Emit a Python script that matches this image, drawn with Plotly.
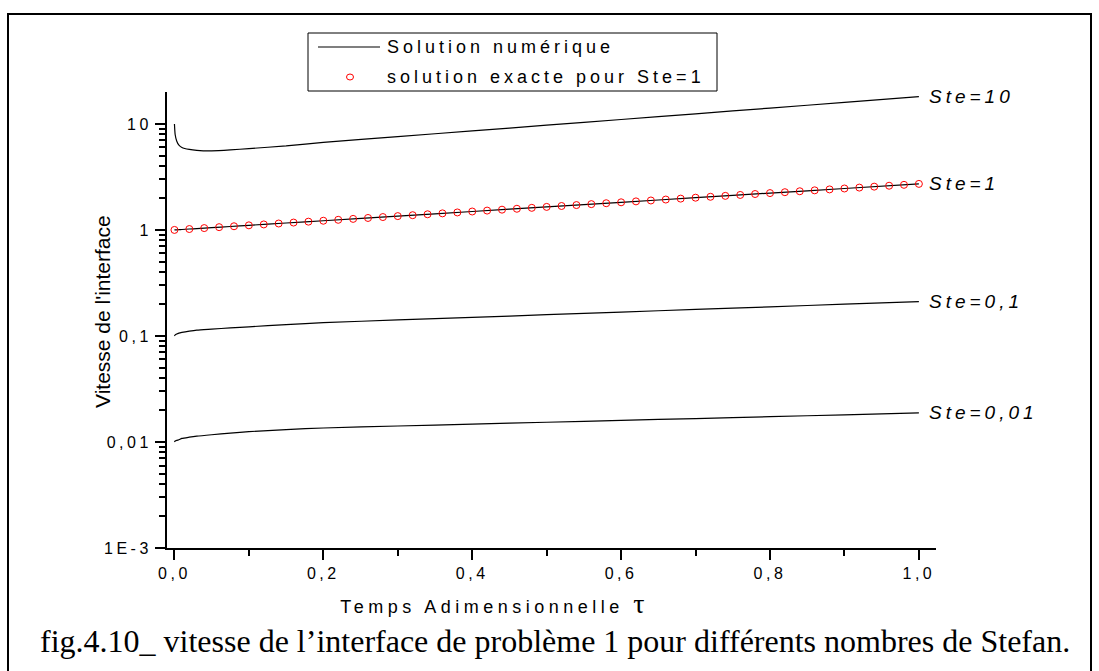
import math
import plotly.graph_objects as go

# ---------------- data ----------------
tau_num = [0, 0.001, 0.003, 0.006, 0.01, 0.02, 0.03, 0.05, 0.075, 0.1, 0.15, 0.2,
           0.3, 0.4, 0.5, 0.6, 0.7, 0.8, 0.9, 1.0]
ste10 = [10.0, 7.9, 6.9, 6.3, 6.0, 5.75, 5.63, 5.57, 5.68, 5.85, 6.2, 6.7,
         7.59, 8.59, 9.72, 11.0, 12.45, 14.1, 15.97, 18.1]
ste1 = [1.0, 1.001, 1.003, 1.006, 1.010, 1.020, 1.030, 1.051, 1.078, 1.105, 1.162, 1.221,
        1.350, 1.492, 1.649, 1.822, 2.014, 2.226, 2.460, 2.718]
ste01 = [0.100, 0.1025, 0.1045, 0.1065, 0.108, 0.111, 0.1135, 0.116, 0.119, 0.122, 0.128, 0.1335,
         0.1415, 0.1498, 0.1586, 0.168, 0.1778, 0.1883, 0.1993, 0.211]
ste001 = [0.0100, 0.0102, 0.01035, 0.0105, 0.0108, 0.0111, 0.01135, 0.0117, 0.0121, 0.0125, 0.0131, 0.01355,
          0.01415, 0.01474, 0.01535, 0.01598, 0.01664, 0.01733, 0.01805, 0.0188]

tau_exact = [0.00, 0.02, 0.04, 0.06, 0.08, 0.10, 0.12, 0.14, 0.16, 0.18, 0.20, 0.22, 0.24, 0.26,
             0.28, 0.30, 0.32, 0.34, 0.36, 0.38, 0.40, 0.42, 0.44, 0.46, 0.48, 0.50, 0.52, 0.54,
             0.56, 0.58, 0.60, 0.62, 0.64, 0.66, 0.68, 0.70, 0.72, 0.74, 0.76, 0.78, 0.80, 0.82,
             0.84, 0.86, 0.88, 0.90, 0.92, 0.94, 0.96, 0.98, 1.00]
exact_ste1 = [1.000, 1.020, 1.041, 1.062, 1.083, 1.105, 1.127, 1.150, 1.174, 1.197, 1.221, 1.246,
              1.271, 1.297, 1.323, 1.350, 1.377, 1.405, 1.433, 1.462, 1.492, 1.522, 1.553, 1.584,
              1.616, 1.649, 1.682, 1.716, 1.751, 1.786, 1.822, 1.859, 1.896, 1.935, 1.974, 2.014,
              2.054, 2.096, 2.138, 2.181, 2.226, 2.270, 2.316, 2.363, 2.411, 2.460, 2.509, 2.560,
              2.612, 2.664, 2.718]

curve_labels = ["Ste=10", "Ste=1", "Ste=0,1", "Ste=0,01"]
x_tickvals = [0.0, 0.2, 0.4, 0.6, 0.8, 1.0]
x_ticktext = ["0,0", "0,2", "0,4", "0,6", "0,8", "1,0"]
x_minor = [0.1, 0.3, 0.5, 0.7, 0.9]
y_tickvals = [0.001, 0.01, 0.1, 1, 10]
y_ticktext = ["1E-3", "0,01", "0,1", "1", "10"]
y_minor = [m * d for d in (0.001, 0.01, 0.1, 1) for m in range(2, 10)]

legend_labels = ["Solution numérique", "solution exacte pour Ste=1"]
x_title = "Temps Adimensionnelle"
y_title = "Vitesse de l'interface"
caption = "fig.4.10_ vitesse de l\u2019interface de problème 1 pour différents nombres de Stefan."

# ---------------- layout geometry (pixels) ----------------
W, H = 1099, 671
L, R, T, B = 167, 936, 92, 548
PW, PH = R - L, B - T


def px(x):
    return (x - L) / PW


def py(y):
    return (B - y) / PH


SANS = "Liberation Sans, Arial, sans-serif"
SERIF = "Liberation Serif, Times New Roman, serif"

# letter spacing (px) used for the spaced-out texts; plotly centres annotation
# text, so a left-anchored label is shifted by half of the added width
SP_LEGEND, SP_XTITLE, SP_CURVE, SP_TICK = 4.0, 4.5, 4.0, 3.5

fig = go.Figure()

for ys in (ste10, ste1, ste01, ste001):
    fig.add_trace(go.Scatter(x=tau_num, y=ys, mode="lines",
                             line=dict(color="black", width=1.2, shape="spline", smoothing=0.6),
                             showlegend=False, hoverinfo="skip"))

fig.add_trace(go.Scatter(x=tau_exact, y=exact_ste1, mode="markers",
                         marker=dict(symbol="circle-open", color="red", size=7, line=dict(width=1)),
                         showlegend=False, hoverinfo="skip"))

annotations = []
for lab, ys in zip(curve_labels, (ste10, ste1, ste01, ste001)):
    annotations.append(dict(x=tau_num[-1], y=math.log10(ys[-1]), xref="x", yref="y",
                            text=lab, showarrow=False, xanchor="left", yanchor="middle",
                            xshift=8 + len(lab) * SP_CURVE / 2,
                            font=dict(family=SANS, size=19, color="black", style="italic")))

# legend (drawn by hand)
for lab, yy in zip(legend_labels, (47, 77)):
    annotations.append(dict(x=px(385), y=py(yy), xref="paper", yref="paper", text=lab,
                            showarrow=False, xanchor="left", yanchor="middle",
                            xshift=len(lab) * SP_LEGEND / 2,
                            font=dict(family=SANS, size=18, color="black")))

# axis titles
annotations.append(dict(x=px(338), y=py(603), xref="paper", yref="paper",
                        text=x_title + " <span style='font-family:Liberation Serif;font-size:28px'>τ</span>",
                        showarrow=False, xanchor="left", yanchor="middle",
                        xshift=(len(x_title) + 2) * SP_XTITLE / 2,
                        font=dict(family=SANS, size=18, color="black")))
annotations.append(dict(x=px(102), y=py(312), xref="paper", yref="paper", text=y_title,
                        textangle=-90, showarrow=False, xanchor="center", yanchor="middle",
                        font=dict(family=SANS, size=21, color="black")))
# caption
annotations.append(dict(x=px(38), y=py(641), xref="paper", yref="paper", text=caption,
                        showarrow=False, xanchor="left", yanchor="middle",
                        font=dict(family=SERIF, size=32, color="black")))

shapes = [
    # outer frame
    dict(type="rect", xref="paper", yref="paper", x0=px(8), x1=px(1091), y0=py(14), y1=py(700),
         line=dict(color="black", width=2), fillcolor="rgba(0,0,0,0)", layer="above"),
    # legend box
    dict(type="rect", xref="paper", yref="paper", x0=px(308), x1=px(717), y0=py(33), y1=py(91),
         line=dict(color="black", width=1), fillcolor="white", layer="below"),
    dict(type="line", xref="paper", yref="paper", x0=px(318), x1=px(380), y0=py(47), y1=py(47),
         line=dict(color="black", width=1.2), layer="above"),
    dict(type="circle", xref="paper", yref="paper", x0=px(346.5), x1=px(353.5), y0=py(74), y1=py(80),
         line=dict(color="red", width=1), layer="above"),
]

fig.update_layout(
    width=W, height=H,
    margin=dict(l=L, r=W - R, t=T, b=H - B),
    paper_bgcolor="white", plot_bgcolor="white",
    showlegend=False,
    annotations=annotations,
    shapes=shapes,
    xaxis=dict(range=[-0.01, 1.023], showgrid=False, zeroline=False, showline=True,
               linecolor="black", linewidth=2, ticks="outside", ticklen=10, tickwidth=2,
               tickcolor="black", tickvals=x_tickvals, ticktext=x_ticktext,
               tickfont=dict(family=SANS, size=16, color="black"),
               minor=dict(tickvals=x_minor, ticks="outside", ticklen=6, tickwidth=2,
                          tickcolor="black", showgrid=False)),
    yaxis=dict(type="log", range=[-3, 1.301], showgrid=False, zeroline=False, showline=True,
               linecolor="black", linewidth=2, ticks="outside", ticklen=10, tickwidth=2,
               tickcolor="black", tickvals=y_tickvals, ticktext=y_ticktext,
               tickfont=dict(family=SANS, size=16, color="black"),
               minor=dict(tickvals=y_minor, ticks="outside", ticklen=6, tickwidth=2,
                          tickcolor="black", showgrid=False)),
)

post = """
var gd = document.querySelector('.plotly-graph-div');
var spacing = {
  'Solution num': '%LEG%px', 'solution exacte': '%LEG%px', 'Temps': '%XT%px', 'Ste=': '%CV%px'
};
function applySpacing(){
  gd.querySelectorAll('.xtick text, .ytick text').forEach(function(t){ t.style.letterSpacing = '%TK%px'; });
  gd.querySelectorAll('.annotation-text').forEach(function(t){
    var s = t.textContent;
    for (var k in spacing){ if (s.indexOf(k) === 0){ t.style.letterSpacing = spacing[k]; } }
  });
}
applySpacing();
gd.on('plotly_afterplot', applySpacing);
""".replace("%LEG%", str(SP_LEGEND)).replace("%XT%", str(SP_XTITLE)) \
   .replace("%CV%", str(SP_CURVE)).replace("%TK%", str(SP_TICK))

fig.write_html("out.html", post_script=post)
